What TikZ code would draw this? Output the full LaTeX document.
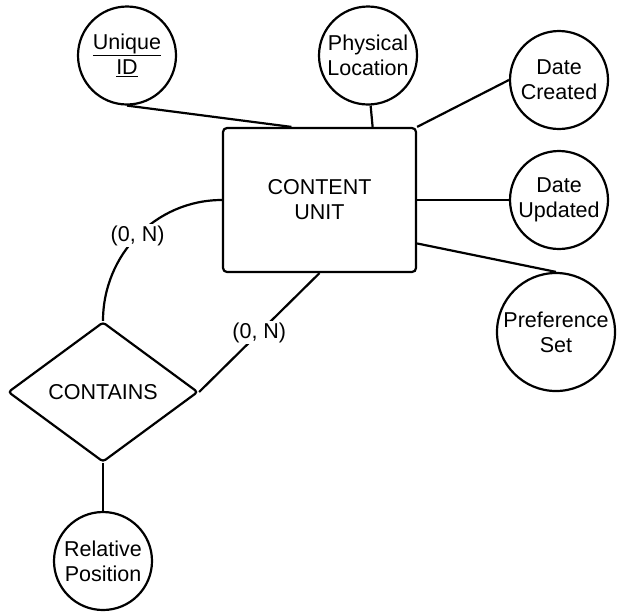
\documentclass[tikz,border=0pt]{standalone}
\usepackage{fontspec}
\setmainfont{Liberation Sans}
\usetikzlibrary{shapes.geometric}
\begin{document}
\begin{tikzpicture}[x=1pt,y=-1pt,
    every node/.style={font=\fontsize{21.5}{25}\selectfont,align=center},
    attr/.style={draw,circle,line width=2.2pt,minimum size=98pt,inner sep=0pt},
    entity/.style={draw,rectangle,rounded corners=4pt,line width=2.2pt,minimum width=193pt,minimum height=144pt},
    relation/.style={draw,diamond,rounded corners=3pt,line width=2.2pt,minimum width=190pt,minimum height=140pt,inner sep=0pt},
    card/.style={fill=white,inner sep=1.5pt},
    link/.style={line width=2.2pt}]
    \useasboundingbox (0,0) rectangle (617,611);
    \node[entity] (unit) at (319.5,200) {CONTENT\\UNIT};
    \node[attr] (uid) at (127,55.5) {\underline{Unique}\\\underline{ID}};
    \node[attr] (loc) at (368,55.5) {Physical\\Location};
    \node[attr] (created) at (559,80) {Date\\Created};
    \node[attr] (updated) at (559,200) {Date\\Updated};
    \node[attr,minimum size=118pt] (pref) at (556,332) {Preference\\Set};
    \node[relation] (cont) at (103,392) {CONTAINS};
    \node[attr] (relpos) at (103,561) {Relative\\Position};
    \draw[link] (uid.south) -- (unit.111);
    \draw[link] (loc.-87) -- (unit.54);
    \draw[link] (unit.north east) -- (created.west);
    \draw[link] (unit.east) -- (updated.west);
    \draw[link] (unit.-24) -- (pref.north);
    \draw[link] (cont.north) to[out=90,in=180] node[card] {(0, N)} (unit.west);
    \draw[link] (cont.east) -- node[card] {(0, N)} (unit.south);
    \draw[link] (cont.south) -- (relpos.north);
\end{tikzpicture}
\end{document}
